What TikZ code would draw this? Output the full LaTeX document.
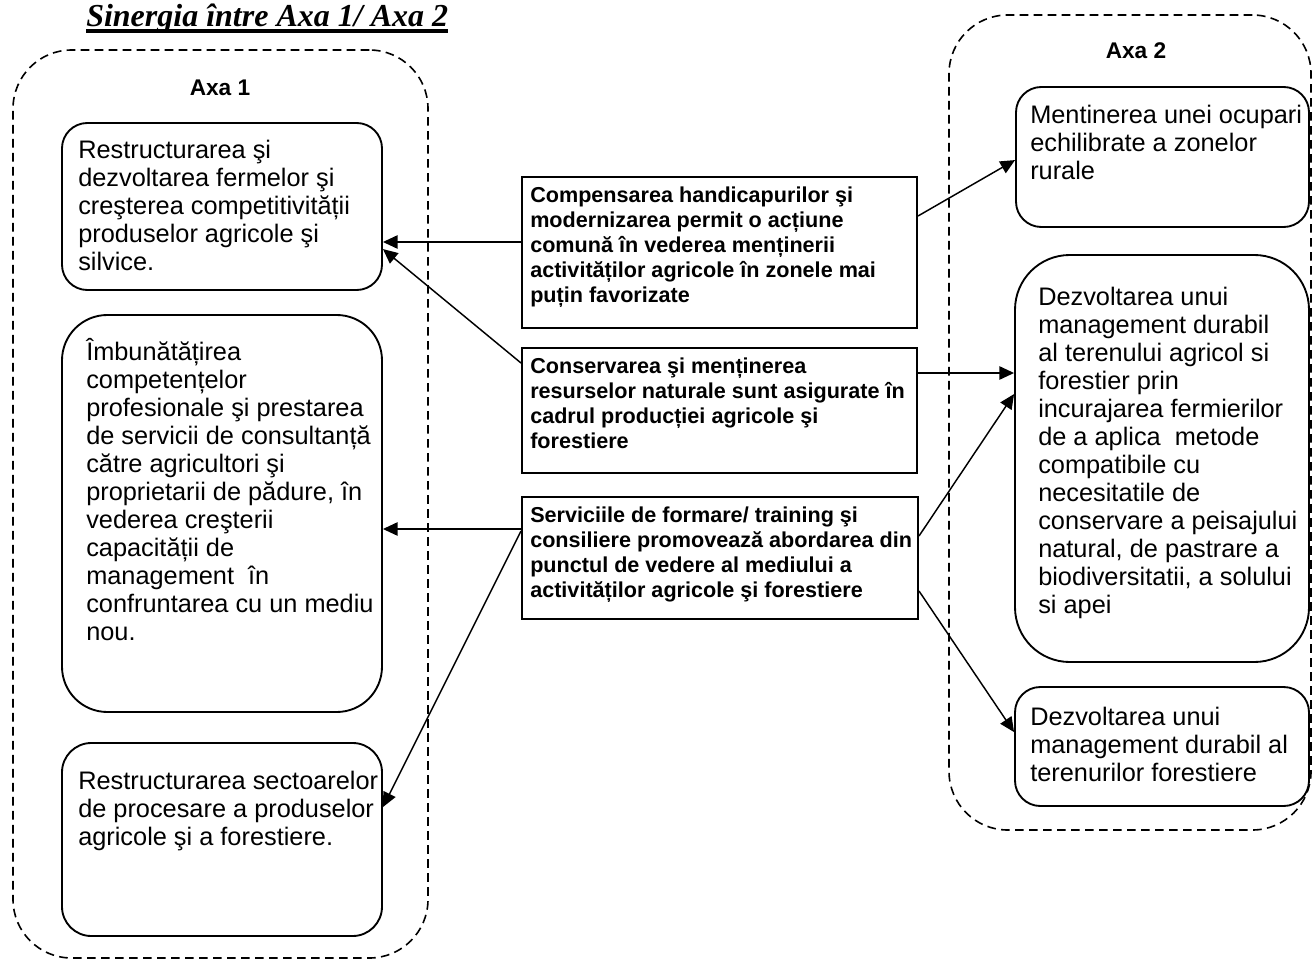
\documentclass[tikz,border=0pt]{standalone}
\usepackage{fontspec}
\setmainfont{Liberation Sans}
\newfontfamily\tnrfont{Liberation Serif}
\usetikzlibrary{calc,fit,arrows.meta}
\begin{document}
\begin{tikzpicture}[x=0.75pt,y=-0.75pt,
  cont/.style={draw, dash pattern=on 6.5pt off 4pt, line width=1.2pt, rounded corners=44pt, inner sep=0pt},
  sbox/.style={draw, line width=1.4pt, inner sep=0pt},
  mbox/.style={draw, line width=1.5pt, inner sep=0pt},
  btext/.style={inner sep=0pt, anchor=north west, align=left, font=\fontsize{19pt}{21pt}\selectfont},
  mtext/.style={inner sep=0pt, anchor=north west, align=left, font=\bfseries\fontsize{16.2pt}{18.75pt}\selectfont},
  axa/.style={inner sep=0pt, font=\bfseries\fontsize{17pt}{20pt}\selectfont},
  arr/.style={line width=1.1pt, -{Triangle[length=11pt,width=10pt]}},
]
\useasboundingbox (0,0) rectangle (1312,959);

% title
\node[inner sep=0pt, anchor=base west, font=\tnrfont\bfseries\itshape\fontsize{24pt}{28pt}\selectfont] (title) at (86,27) {Sinergia între Axa 1/ Axa 2};
\draw[line width=2.6pt] ($(title.base west)+(0,4)$) -- ($(title.base east)+(0,4)$);

% containers
\node[cont, fit={(13,50) (428,958)}] (L) {};
\node[cont, fit={(949,15) (1311,830)}] (R) {};
\node[axa] (axa1) at (220,88) {Axa 1};
\node[axa] (axa2) at (1136,51) {Axa 2};

% left boxes
\node[sbox, rounded corners=19pt, fit={(62,123) (382,290)}] (a1) {};
\node[sbox, rounded corners=34pt, fit={(62,315) (382,712)}] (a2) {};
\node[sbox, rounded corners=22pt, fit={(62,743) (382,936)}] (a3) {};
\node[btext] (a1t) at (78,140) {Restructurarea şi\\dezvoltarea fermelor şi\\creşterea competitivității\\produselor agricole şi\\silvice.};
\node[btext] (a2t) at (86,338) {Îmbunătățirea\\competențelor\\profesionale şi prestarea\\de servicii de consultanță\\către agricultori şi\\proprietarii de pădure, în\\vederea creşterii\\capacității de\\management\ \ în\\confruntarea cu un mediu\\nou.};
\node[btext] (a3t) at (78,771) {Restructurarea sectoarelor\\de procesare a produselor\\agricole şi a forestiere.};

% middle boxes
\node[mbox, fit={(522,177) (917,328)}] (m1) {};
\node[mbox, fit={(522,348) (917,473)}] (m2) {};
\node[mbox, fit={(522,497) (918,619)}] (m3) {};
\node[mtext] (m1t) at (530,187) {Compensarea handicapurilor şi\\modernizarea permit o acțiune\\comună în vederea menținerii\\activităților agricole în zonele mai\\puțin favorizate};
\node[mtext] (m2t) at (530,358) {Conservarea şi menținerea\\resurselor naturale sunt asigurate în\\cadrul producției agricole şi\\forestiere};
\node[mtext] (m3t) at (530,507) {Serviciile de formare/ training şi\\consiliere promovează abordarea din\\punctul de vedere al mediului a\\activităților agricole şi forestiere};

% right boxes
\node[sbox, rounded corners=19pt, fit={(1016,87) (1309,227)}] (b1) {};
\node[sbox, rounded corners=41pt, fit={(1015,255) (1309,662)}] (b2) {};
\node[sbox, rounded corners=19pt, fit={(1015,687) (1309,806)}] (b3) {};
\node[btext] (b1t) at (1030,105) {Mentinerea unei ocupari\\echilibrate a zonelor\\rurale};
\node[btext] (b2t) at (1038,287) {Dezvoltarea unui\\management durabil\\al terenului agricol si\\forestier prin\\incurajarea fermierilor\\de a aplica\ \ metode\\compatibile cu\\necesitatile de\\conservare a peisajului\\natural, de pastrare a\\biodiversitatii, a solului\\si apei};
\node[btext] (b3t) at (1030,707) {Dezvoltarea unui\\management durabil al\\terenurilor forestiere};

% connectors
\draw[arr] ($(m1.north west)+(0,66)$) coordinate (p1) -- (p1 -| a1.east);
\draw[arr] ($(m2.north west)+(0,16)$) -- ($(a1.north east)+(0,127)$);
\draw[arr] ($(m3.north west)+(0,33)$) coordinate (p3) -- (p3 -| a2.east);
\draw[arr] ($(m3.north west)+(0,35)$) -- ($(a3.north east)+(0,65)$);
\draw[arr] ($(m1.north east)+(0,40)$) -- ($(b1.north west)+(0,74)$);
\draw[arr] ($(m2.north east)+(0,26)$) coordinate (p6) -- (p6 -| b2.west);
\draw[arr] ($(m3.north east)+(0,40)$) -- ($(b2.north west)+(0,140)$);
\draw[arr] ($(m3.north east)+(0,95)$) -- ($(b3.north west)+(0,46)$);
\end{tikzpicture}
\end{document}
